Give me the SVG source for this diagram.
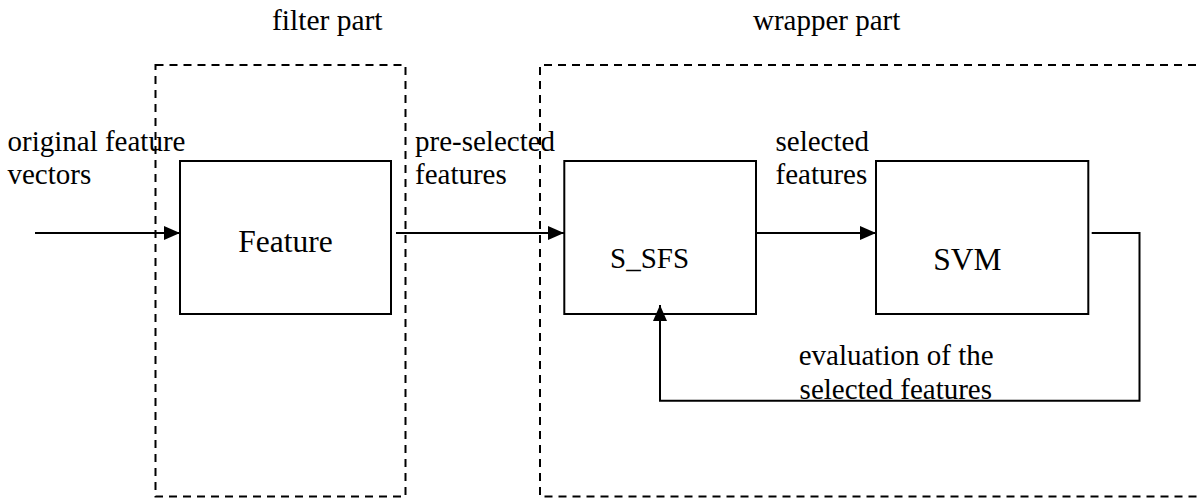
<svg xmlns="http://www.w3.org/2000/svg" width="1199" height="498" viewBox="0 0 1199 498">
<defs>
<marker id="ah" markerWidth="16" markerHeight="14" refX="16" refY="7" orient="auto" markerUnits="userSpaceOnUse"><path d="M0,0 L16,7 L0,14 z" fill="#000"/></marker>
<style>
.dash{fill:none;stroke:#000;stroke-width:2;stroke-dasharray:8,6}
.box{fill:#fff;stroke:#000;stroke-width:2}
.wire{fill:none;stroke:#000;stroke-width:2}
</style>
</defs>
<rect width="1199" height="498" fill="#fff"/>
<g id="filter-part">
<rect class="dash" x="155.5" y="65" width="250" height="431.5"/>
<text x="272" y="29.5" font-family="Liberation Serif" font-size="29.5">filter part</text>
</g>
<g id="wrapper-part">
<path class="dash" d="M1210,65 H540 V496.5 H1210"/>
<text x="753" y="29.5" font-family="Liberation Serif" font-size="29">wrapper part</text>
</g>
<g id="feature">
<rect class="box" x="180" y="161" width="211" height="153"/>
<text x="238.3" y="252.3" font-family="Liberation Serif" font-size="31.5">Feature</text>
</g>
<g id="s_sfs">
<rect class="box" x="564.3" y="161" width="191.7" height="153"/>
<text x="610" y="268.3" font-family="Liberation Serif" font-size="29">S_SFS</text>
</g>
<g id="svm">
<rect class="box" x="876" y="161" width="212.3" height="153"/>
<text x="933.3" y="270" font-family="Liberation Serif" font-size="31.5">SVM</text>
</g>
<g id="connectors">
<line class="wire" x1="35" y1="233" x2="180" y2="233" marker-end="url(#ah)"/>
<line class="wire" x1="396" y1="233" x2="564" y2="233" marker-end="url(#ah)"/>
<line class="wire" x1="757" y1="233" x2="876" y2="233" marker-end="url(#ah)"/>
<path class="wire" d="M1091.7,233 H1139.5 V400.7 H660 V305" marker-end="url(#ah)"/>
</g>
<g id="labels">
<text x="7.5" y="150.5" font-family="Liberation Serif" font-size="29">original feature</text>
<text x="7.5" y="183.5" font-family="Liberation Serif" font-size="29">vectors</text>
<text x="415" y="150.5" font-family="Liberation Serif" font-size="29">pre-selected</text>
<text x="415" y="183.5" font-family="Liberation Serif" font-size="29">features</text>
<text x="775.5" y="150.5" font-family="Liberation Serif" font-size="29">selected</text>
<text x="775.5" y="183.5" font-family="Liberation Serif" font-size="29">features</text>
<text x="798.7" y="365" font-family="Liberation Serif" font-size="29">evaluation of the</text>
<text x="799.6" y="398.5" font-family="Liberation Serif" font-size="29">selected features</text>
</g>
</svg>
